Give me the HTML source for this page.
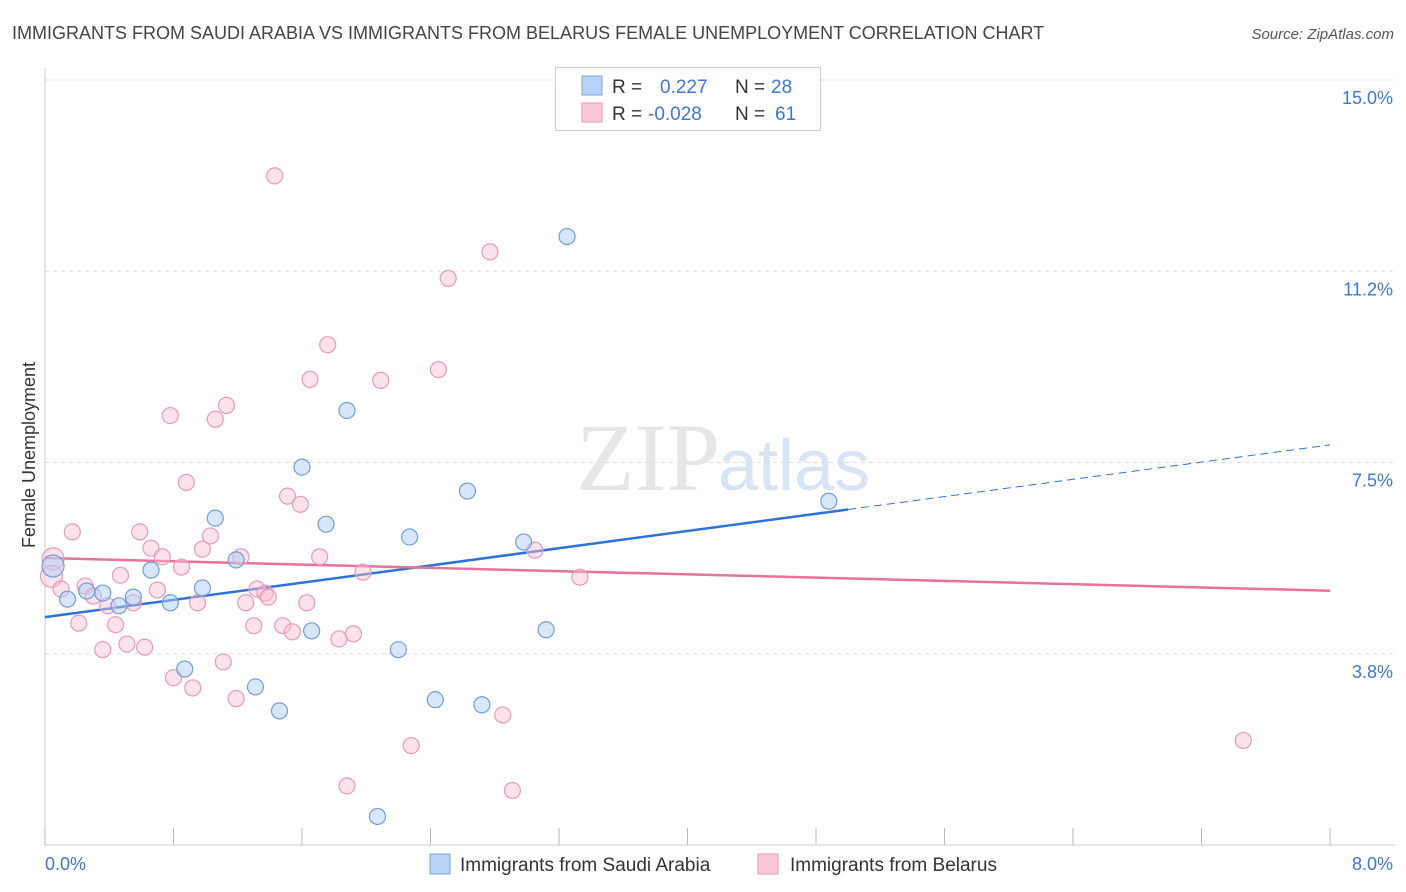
<!DOCTYPE html>
<html><head><meta charset="utf-8"><style>
body{margin:0;background:#fff;font-family:"Liberation Sans",sans-serif;}
svg{display:block}
</style></head><body>
<svg id="c" width="1406" height="892" xmlns="http://www.w3.org/2000/svg">
<text x="12" y="39" font-size="18" fill="#444">IMMIGRANTS FROM SAUDI ARABIA VS IMMIGRANTS FROM BELARUS FEMALE UNEMPLOYMENT CORRELATION CHART</text>
<text x="1394" y="39" font-size="15" fill="#555" font-style="italic" text-anchor="end">Source: ZipAtlas.com</text>
<text x="720" y="490" font-size="96" fill="#e6e6e6" text-anchor="end" font-family="Liberation Serif">ZIP</text>
<text x="718" y="490" font-size="72" fill="#d6e4f5">atlas</text>
<g id="grid"></g><g id="axes"></g><g id="lines"></g><g id="pts"></g>
<text x="35" y="455" font-size="18" fill="#333" text-anchor="middle" transform="rotate(-90 35 455)">Female Unemployment</text>
<g>
<rect x="555.5" y="67.5" width="265" height="63" fill="#fff" stroke="#ccc"/>
<rect x="582" y="76" width="20" height="19" fill="#b7d2f4" stroke="#7aa6e0"/>
<rect x="582" y="103" width="20" height="19" fill="#f9c7d6" stroke="#eb97b1"/>
<text x="612" y="93" font-size="19" fill="#333">R = <tspan fill="#3a78d4" x="660">0.227</tspan><tspan x="735" fill="#333">N =</tspan><tspan x="771" fill="#3a78d4">28</tspan></text>
<text x="612" y="120" font-size="19" fill="#333">R = <tspan fill="#3a78d4" x="648">-0.028</tspan><tspan x="735" fill="#333">N =</tspan><tspan x="775" fill="#3a78d4">61</tspan></text>
</g>
<g>
<rect x="430" y="854" width="20" height="20" fill="#b7d2f4" stroke="#7aa6e0"/>
<text x="460" y="871" font-size="19" fill="#333">Immigrants from Saudi Arabia</text>
<rect x="758" y="854" width="20" height="20" fill="#f9c7d6" stroke="#eb97b1"/>
<text x="790" y="871" font-size="19" fill="#333">Immigrants from Belarus</text>
</g>
</svg>
<script>
const xTicks=[0,0.8,1.6,2.4,3.2,4,4.8,5.6,6.4,7.2,8];
const yTicks=[3.75,7.5,11.25,15];
const yTickLabels=["3.8%","7.5%","11.2%","15.0%"];
const xTickLabels=["0.0%","8.0%"];
const saudiX=[0.05,0.14,0.26,0.36,0.46,0.55,0.66,0.78,0.87,0.98,1.06,1.19,1.31,1.46,1.60,1.66,1.75,1.88,2.20,2.27,2.43,2.63,2.72,2.98,3.12,3.25,4.88,2.07];
const saudiY=[5.47,4.82,4.98,4.94,4.69,4.86,5.39,4.75,3.45,5.04,6.41,5.59,3.10,2.63,7.41,4.20,6.29,8.52,3.83,6.04,2.85,6.94,2.75,5.94,4.22,11.93,6.74,0.56];
const belX=[0.05,0.04,0.17,0.10,0.21,0.25,0.30,0.36,0.39,0.44,0.47,0.51,0.55,0.59,0.62,0.66,0.70,0.73,0.78,0.80,0.85,0.88,0.92,0.95,0.98,1.03,1.06,1.11,1.13,1.19,1.22,1.25,1.30,1.32,1.37,1.39,1.43,1.48,1.51,1.54,1.59,1.63,1.65,1.71,1.76,1.83,1.88,1.92,1.98,2.09,2.28,2.45,2.51,2.77,2.85,2.91,3.05,3.33,7.46];
const belY=[5.61,5.27,6.14,5.02,4.35,5.08,4.88,3.83,4.69,4.32,5.29,3.94,4.75,6.14,3.88,5.82,5.00,5.65,8.42,3.28,5.45,7.11,3.08,4.75,5.80,6.06,8.35,3.59,8.62,2.87,5.65,4.75,4.30,5.02,4.94,4.86,13.12,4.30,6.84,4.18,6.68,4.75,9.13,5.65,9.81,4.04,1.16,4.14,5.35,9.11,1.95,9.32,11.11,11.63,2.55,1.07,5.78,5.25,2.05];
const X0=45,X1=1330,Y0=845,YT=80;
const sx=v=>X0+v/8*(X1-X0);
const sy=v=>YT+(15-v)/15*(Y0-YT);
const NS="http://www.w3.org/2000/svg";
function mk(tag,attrs,parent){const e=document.createElementNS(NS,tag);for(const k in attrs)e.setAttribute(k,attrs[k]);document.getElementById(parent).appendChild(e);return e;}
yTicks.forEach((t,i)=>{
 const g=mk('line',{x1:X0,x2:1395,y1:sy(t),y2:sy(t),stroke:'#ddd','stroke-dasharray':'4,4'},'grid');
 
 
 const l=mk('text',{x:1393,y:sy(t)+24,'font-size':18,fill:'#3a78d4','text-anchor':'end'},'axes');
 l.textContent=yTickLabels[i];
 
 
});
const xa=mk('line',{x1:X0,x2:1395,y1:Y0,y2:Y0,stroke:'#ccc'},'axes');


const ya=mk('line',{x1:X0,x2:X0,y1:68,y2:Y0,stroke:'#ccc'},'axes');


xTicks.forEach(t=>{
 const k=mk('line',{x1:sx(t),x2:sx(t),y1:828,y2:Y0,stroke:'#bbb'},'axes');
 
 
});
[[0,'start',45],[8,'end',1393]].forEach((a,i)=>{
 const l=mk('text',{x:a[2],y:870,'font-size':18,fill:'#3a78d4','text-anchor':a[1]},'axes');
 l.textContent=xTickLabels[i];
 
 
});
function fit(xs,ys){const n=xs.length;let mx=0,my=0;for(let i=0;i<n;i++){mx+=xs[i];my+=ys[i];}mx/=n;my/=n;let sxy=0,sxx=0;for(let i=0;i<n;i++){sxy+=(xs[i]-mx)*(ys[i]-my);sxx+=(xs[i]-mx)**2;}const b=sxy/sxx;return [my-b*mx,b];}
const fs=fit(saudiX,saudiY),fb=fit(belX,belY);
const xmax=Math.max(...saudiX)+0.12;
const t1=mk('line',{x1:sx(0),y1:sy(fs[0]),x2:sx(xmax),y2:sy(fs[0]+fs[1]*xmax),stroke:'#2f72d6','stroke-width':2.5},'lines');


const t2=mk('line',{x1:sx(xmax),y1:sy(fs[0]+fs[1]*xmax),x2:sx(8),y2:sy(fs[0]+fs[1]*8),stroke:'#2f72d6','stroke-width':1,'stroke-dasharray':'8,5'},'lines');


const t3=mk('line',{x1:sx(0),y1:sy(fb[0]),x2:sx(8),y2:sy(fb[0]+fb[1]*8),stroke:'#e8729a','stroke-width':2.5},'lines');


belX.forEach((v,i)=>{
 const c=mk('circle',{cx:sx(v),cy:sy(belY[i]),r:i<2?11:8,fill:'rgba(248,190,208,0.45)',stroke:'#eb9ab4','stroke-width':1.2},'pts');
 
 
});
saudiX.forEach((v,i)=>{
 const c=mk('circle',{cx:sx(v),cy:sy(saudiY[i]),r:i<1?11:8,fill:'rgba(176,205,244,0.5)',stroke:'#6e9edc','stroke-width':1.2},'pts');
 
 
});
</script>
</body></html>
